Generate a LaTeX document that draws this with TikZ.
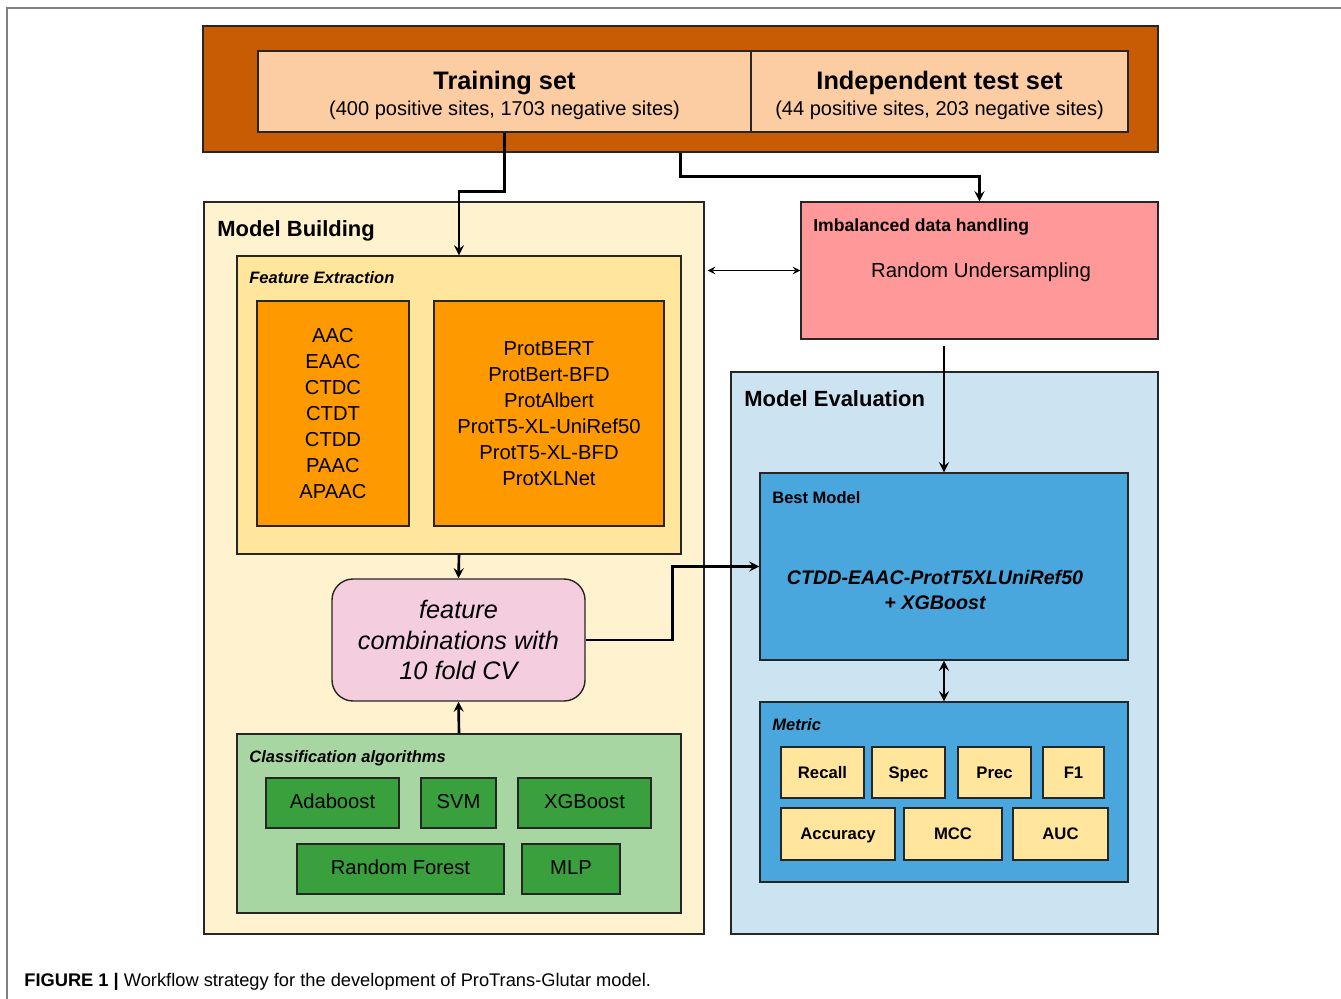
\documentclass[tikz,border=0pt]{standalone}
\usepackage{fontspec}
\setmainfont{Liberation Sans}
\usepackage{tikz}
\usetikzlibrary{arrows}
\usetikzlibrary{calc}

\definecolor{rust}{RGB}{200,92,4}
\definecolor{peach}{RGB}{252,204,162}
\definecolor{cream}{RGB}{255,242,206}
\definecolor{butter}{RGB}{255,230,156}
\definecolor{amber}{RGB}{255,153,0}
\definecolor{blush}{RGB}{244,206,222}
\definecolor{mint}{RGB}{168,214,162}
\definecolor{leaf}{RGB}{58,160,62}
\definecolor{salmon}{RGB}{255,153,153}
\definecolor{sky}{RGB}{204,227,242}
\definecolor{ocean}{RGB}{74,167,221}

\begin{document}
\begin{tikzpicture}[
	box/.style={draw=black!85, line width=0.8pt, inner sep=0pt, align=center},
	algo/.style={box, fill=leaf, minimum height=1cm, text height=1.6ex, text depth=0.4ex, font=\fontsize{11.5}{14}\selectfont},
	met/.style={box, fill=butter, text height=1.6ex, text depth=0.4ex, font=\fontsize{9.5}{12}\selectfont\bfseries},
	head/.style={anchor=base west, inner sep=0pt, font=\fontsize{12.5}{15}\selectfont\bfseries},
	sub/.style={anchor=base west, inner sep=0pt, font=\fontsize{9.4}{12}\selectfont\bfseries\itshape},
	flow/.style={line width=1.5pt, -stealth}]
	\useasboundingbox (0,0) rectangle (26.82,-19.98);
	%\draw[style=help lines,gray!50] (0,-20) grid (27,0);
	\draw[gray, line width=0.6pt] (0.14,-19.98) -- (0.14,-0.16) -- (26.82,-0.16);

	\node[box, fill=rust, minimum width=19.1cm, minimum height=2.52cm] at (13.61,-1.78) (data) {};
	\node[box, fill=peach, minimum width=9.86cm, minimum height=1.62cm, font=\fontsize{11.4}{14.5}\selectfont] at (10.09,-1.83) (train) {\rule{0pt}{15pt}{\fontsize{14.4}{16}\selectfont\bfseries Training set}\\(400 positive sites, 1703 negative sites)};
	\node[box, fill=peach, minimum width=7.54cm, minimum height=1.62cm, font=\fontsize{11.4}{14.5}\selectfont] at (18.79,-1.83) (test) {\rule{0pt}{15pt}{\fontsize{14.4}{16}\selectfont\bfseries Independent test set}\\(44 positive sites, 203 negative sites)};

	\node[box, fill=cream, minimum width=10cm, minimum height=14.64cm] at (9.08,-11.36) (mbuild) {};
	\node[head] at (4.34,-4.72) (mbuild_lbl) {Model Building};

	\node[box, fill=butter, minimum width=8.88cm, minimum height=5.96cm] at (9.18,-8.1) (fext) {};
	\node[sub] at (4.98,-5.66) (fext_lbl) {Feature Extraction};
	\node[box, fill=amber, minimum width=3.04cm, minimum height=4.5cm, font=\fontsize{11.5}{14.8}\selectfont] at (6.66,-8.27) (aac) {AAC\\EAAC\\CTDC\\CTDT\\CTDD\\PAAC\\APAAC};
	\node[box, fill=amber, minimum width=4.6cm, minimum height=4.5cm, font=\fontsize{11.5}{14.8}\selectfont] at (10.98,-8.27) (plm) {ProtBERT\\ProtBert-BFD\\ProtAlbert\\ProtT5-XL-UniRef50\\ProtT5-XL-BFD\\ProtXLNet};

	\node[box, fill=blush, rounded corners=0.42cm, minimum width=5.06cm, minimum height=2.44cm, font=\fontsize{14.4}{17.2}\selectfont\itshape] at (9.17,-12.8) (comb) {feature\\combinations with\\10 fold CV};

	\node[box, fill=mint, minimum width=8.88cm, minimum height=3.58cm] at (9.18,-16.47) (clf) {};
	\node[sub] at (4.98,-15.24) (clf_lbl) {Classification algorithms};
	\node[algo, minimum width=2.66cm] at (6.65,-16.06) (ada) {Adaboost};
	\node[algo, minimum width=1.5cm] at (9.17,-16.06) (svm) {SVM};
	\node[algo, minimum width=2.66cm] at (11.69,-16.06) (xgb) {XGBoost};
	\node[algo, minimum width=4.14cm] at (8.01,-17.38) (rf) {Random Forest};
	\node[algo, minimum width=1.96cm] at (11.42,-17.38) (mlp) {MLP};

	\node[box, fill=salmon, minimum width=7.14cm, minimum height=2.74cm] at (19.59,-5.41) (imb) {};
	\node[anchor=base west, inner sep=0pt, font=\fontsize{10}{12}\selectfont\bfseries] at (16.26,-4.64) (imb_lbl) {Imbalanced data handling};
	\node[inner sep=0pt, font=\fontsize{11.6}{14}\selectfont] at (19.62,-5.44) (rus) {Random Undersampling};

	\node[box, fill=sky, minimum width=8.54cm, minimum height=11.24cm] at (18.89,-13.06) (meval) {};
	\node[head] at (14.88,-8.12) (meval_lbl) {Model Evaluation};

	\node[box, fill=ocean, minimum width=7.36cm, minimum height=3.74cm] at (18.88,-11.33) (best) {};
	\node[anchor=base west, inner sep=0pt, font=\fontsize{9.4}{12}\selectfont\bfseries] at (15.44,-10.06) (best_lbl) {Best Model};
	\node[inner sep=0pt, align=center, font=\fontsize{11.2}{14}\selectfont\bfseries\itshape] at (18.7,-11.8) (bestmod) {CTDD-EAAC-ProtT5XLUniRef50\\+ XGBoost};

	\node[box, fill=ocean, minimum width=7.36cm, minimum height=3.6cm] at (18.88,-15.84) (metric) {};
	\node[sub] at (15.44,-14.6) (metric_lbl) {Metric};
	\node[met, minimum width=1.66cm, minimum height=1.02cm] at (16.45,-15.45) (rec) {Recall};
	\node[met, minimum width=1.46cm, minimum height=1.02cm] at (18.17,-15.45) (spec) {Spec};
	\node[met, minimum width=1.46cm, minimum height=1.02cm] at (19.89,-15.45) (prec) {Prec};
	\node[met, minimum width=1.22cm, minimum height=1.02cm] at (21.47,-15.45) (f1) {F1};
	\node[met, minimum width=2.28cm, minimum height=1.04cm] at (16.76,-16.68) (acc) {Accuracy};
	\node[met, minimum width=1.96cm, minimum height=1.04cm] at (19.06,-16.68) (mcc) {MCC};
	\node[met, minimum width=1.9cm, minimum height=1.04cm] at (21.21,-16.68) (auc) {AUC};

	\draw[flow] (train.south) |- ($(fext.north)+(0,1.28)$) -- (fext.north);
	\draw[flow] (data.south) |- ($(imb.north)+(0,0.5)$) -- (imb.north);
	\draw[line width=0.9pt, stealth-stealth] ($(mbuild.east |- imb.west)+(0.06,0)$) -- (imb.west);
	\draw[flow] ($(imb.south -| best.north)+(0,-0.12)$) -- (best.north);
	\draw[flow] (fext.south) -- (comb.north);
	\draw[flow] (clf.north) -- (comb.south);
	\draw[flow] (comb.east) -- ++(1.74,0) |- (best.west);
	\draw[line width=1.5pt, stealth-stealth] (best.south) -- (metric.north);

	\node[anchor=base west, inner sep=0pt, font=\fontsize{10.4}{12}\selectfont] at (0.48,-19.72) (caption) {\textbf{FIGURE 1 |} Workflow strategy for the development of ProTrans-Glutar model.};
\end{tikzpicture}
\end{document}
